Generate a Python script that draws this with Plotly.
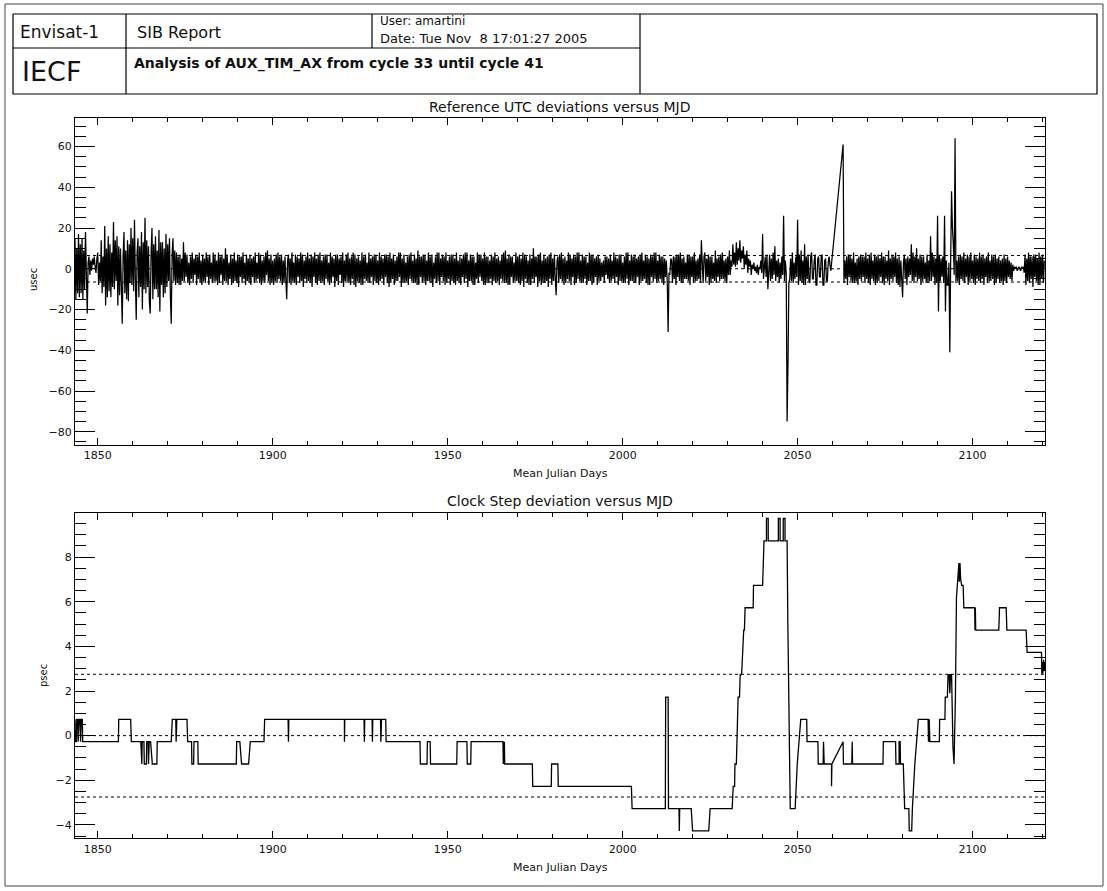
import numpy as np
import plotly.graph_objects as go

W, H = 1107, 891

# ---------------------------------------------------------------------------
# Reference UTC deviations (usec), quarter-day samples.
# Block A runs from MJD 1843.5, block B restarts after the data gap at 2063.0
# (each text row below holds 10 days of samples)
# ---------------------------------------------------------------------------
UTC_START_A = 1843.5
UTC_START_B = 2063.0
UTC_STEP = 0.25

utc_usec_a = [float(v) for v in """
15 -15 10 -12 17 -14 12 -12 15 -15 9 -10 18 4 -22 3 6 -3 4 -1 5 2 6 1 -2 5 8 -8 3 -6 14 -12 6 -9 21 -18 10 -14 16 -11
12 -14 8 -9 23 -10 14 -6 16 -18 11 -13 10 -8 -27 6 18 -12 9 -15 14 -16 12 -7 20 -8 15 -11 24 -5 -25 8 15 -14 11 -9 18 -20 13 -10
25 -12 14 -9 11 -16 -22 8 20 -15 12 -10 16 -10 9 -14 19 -21 13 -8 13 -14 10 -12 17 -9 12 -6 15 -13 -27 7 15 -6 9 -8 8 -7 6 -8
7 -8 5 -6 13 -6 8 -4 7 -7 3 -8 6 -5 8 -7 5 -3 7 -8 6 -5 8 -7 4 -8 7 -6 5 -7 8 -4 6 -8 7 -5 3 -7 8 -6
7 -6 4 -8 8 -7 6 -3 7 -8 5 -6 10 -6 7 -8 3 -5 7 -8 5 -7 8 -6 4 -7 7 -9 6 -4 6 -7 8 -5 3 -8 7 -6 5 -7
7 -8 5 -4 6 -7 8 -6 3 -5 8 -7 7 -8 4 -6 6 -7 8 -3 9 -6 5 -8 7 -7 4 -8 5 -6 7 -7 8 -5 6 -6 7 -8 4 -7
6 -5 -15 4 7 -7 5 -8 8 -6 3 -7 7 -8 6 -4 5 -7 8 -6 7 -9 4 -5 6 -7 8 -6 5 -7 7 -9 6 -4 8 -7 5 -8 7 -6
8 -7 4 -6 6 -8 7 -5 7 -6 3 -8 8 -7 6 -4 5 -9 7 -6 7 -8 5 -3 6 -7 8 -9 4 -6 7 -6 8 -7 5 -8 6 -5 8 -8
7 -9 5 -6 6 -7 4 -8 8 -8 6 -5 7 -6 3 -7 8 -7 5 -4 6 -8 7 -6 7 -7 4 -8 8 -6 6 -5 5 -8 7 -4 7 -7 6 -9
8 -7 5 -5 7 -8 4 -6 6 -6 8 -4 8 -9 5 -7 7 -7 3 -6 6 -8 7 -5 8 -6 4 -7 7 -7 5 -8 9 -8 6 -4 6 -7 7 -6
7 -8 4 -6 8 -6 6 -7 7 -9 3 -5 6 -7 8 -6 8 -8 5 -4 7 -6 6 -8 8 -7 4 -5 6 -8 7 -6 7 -7 5 -8 8 -6 4 -7
6 -8 5 -4 7 -7 8 -5 8 -9 4 -6 7 -6 6 -8 6 -8 3 -5 8 -7 7 -4 7 -6 5 -8 8 -8 6 -7 6 -7 4 -5 7 -8 6 -6
8 -7 5 -6 6 -8 4 -5 7 -6 8 -7 9 -7 5 -8 7 -8 6 -4 6 -7 3 -6 8 -6 6 -7 7 -8 5 -6 8 -9 7 -5 6 -7 4 -8
7 -8 5 -5 10 -7 6 -4 6 -9 7 -6 8 -8 4 -7 7 -7 5 -6 6 -9 7 -5 8 -8 5 -6 7 -5 -13 4 6 -7 7 -5 8 -6 5 -8
6 -7 4 -5 8 -6 7 -8 5 -4 7 -8 6 -7 8 -5 8 -6 4 -7 7 -7 6 -5 6 -8 3 -6 8 -6 7 -8 7 -7 5 -4 6 -8 7 -6
5 -6 3 -4 4 -7 6 -3 6 -5 5 -7 7 -6 4 -5 8 -7 6 -4 5 -8 7 -6 7 -6 3 -7 6 -7 8 -5 8 -8 4 -6 7 -6 6 -7
7 -7 5 -4 6 -8 7 -6 8 -6 4 -5 7 -7 6 -8 5 -8 7 -4 6 -6 8 -5 8 -7 4 -6 7 -5 6 -7 6 -8 5 -4 4 -6 -31 -2
-3 5 4 -7 6 -5 6 -8 7 -4 7 -6 8 -7 5 -7 6 -5 3 -5 7 -6 7 -8 6 -4 6 -7 8 -6 4 -6 5 -5 7 -7 14 3 -7 6
8 -6 5 -4 7 -8 6 -7 6 -5 3 -6 9 -7 5 -4 6 -6 7 -5 8 -5 4 -6 5 -7 6 -3 9 -3 4 1 12 2 8 1 13 2 10 4
14 3 9 5 11 0 7 2 9 -2 5 1 4 -3 2 0 3 -1 1 -2 2 -3 1 0 4 -2 17 -5 3 6 -4 7 -10 2 7 -6 5 -5 8 -3
11 -6 4 -4 5 -7 3 -5 6 -3 26 -6 4 -2 -75 -48 -7 -5 5 -6 8 -7 3 -5 6 -4 24 -8 7 -6 9 -7 4 -8 12 -8 6 -5 7 -6
-7 6 8 -5 -5 4 7 -8 -8 5 6 -4 -4 6 7 -8 -8 4 5 -6 -6 3 6 2 -1
""".split()]

utc_usec_b = [float(v) for v in """
61 -7 4 -5 6 -8 7 -4 7 -6 5 -7 8 -7 3 -6 5 -8 6 -5 7 -6 6 -4 6 -7 8 -5 5 -7 7 -8 8 -5 4 -6 7 -8 6 -7
7 -6 5 -4 8 -7 6 -8 6 -5 4 -6 9 -8 5 -5 7 -6 6 -4 8 -7 5 -8 6 -9 4 -6 -14 3 7 -5 5 -8 6 -4 5 -3 12 -6
8 -7 6 -4 10 -6 5 -5 7 -8 6 -6 6 -5 3 -7 7 -7 4 -6 16 -6 8 -4 6 -8 5 -7 26 -21 7 -6 5 -4 6 -7 26 -21 4 -8
-8 3 -41 5 38 20 12 -3 64 -7 4 -6 6 -8 7 -5 6 -6 8 -7 5 -4 7 -8 6 -6 8 -5 4 -7 7 -8 6 -5 5 -6 8 -7 6 -5
7 -8 5 -4 6 -7 8 -6 4 -6 7 -5 6 -8 7 -7 5 -5 6 -7 4 -6 5 -8 7 -6 5 -7 6 -4 4 -5 3 -6 2 -1 1 0 1 -1
0 1 0 -1 1 0 1 -2 7 -8 5 -6 8 -7 6 -5 6 -9 7 -4 7 -6 5 -8 8 -8 6 -5 7 -7 4
""".split()]

utc_limits = [-6.5, 0.0, 6.5]

# ---------------------------------------------------------------------------
# Clock step deviation (psec) as (MJD, value) vertices
# ---------------------------------------------------------------------------
clock_steps = [
    (1843.5, 0.73), (1843.6, -0.27), (1843.9, -0.27), (1844.0, 0.73),
    (1844.3, 0.73), (1844.4, -0.27), (1844.7, 0.73), (1845.0, 0.73),
    (1845.1, -0.27), (1845.3, 0.73), (1845.6, 0.73), (1845.7, -0.27),
    (1855.9, -0.27), (1856.0, 0.73), (1859.4, 0.73), (1859.6, -0.27),
    (1862.3, -0.27), (1862.4, -1.27), (1862.6, -1.27), (1862.7, -0.27),
    (1863.2, -0.27), (1863.3, -1.27), (1863.9, -1.27), (1864.0, -0.27),
    (1864.4, -0.27), (1864.5, -1.27), (1864.7, -0.27), (1865.1, -0.27),
    (1865.6, -1.27), (1866.9, -1.27), (1867.0, -0.27), (1871.0, -0.27),
    (1871.3, 0.73), (1872.3, 0.73), (1872.4, -0.27), (1872.6, 0.73),
    (1875.5, 0.73), (1875.7, -0.27), (1876.8, -0.27), (1876.9, -1.27),
    (1877.4, -1.27), (1877.5, -0.27), (1878.6, -0.27), (1878.7, -1.27),
    (1889.6, -1.27), (1889.7, -0.27), (1890.6, -0.27), (1891.1, -1.27),
    (1893.1, -1.27), (1893.6, -0.27), (1897.5, -0.27), (1897.7, 0.73),
    (1904.4, 0.73), (1904.5, -0.27), (1904.6, 0.73), (1920.5, 0.73),
    (1920.5, -0.27), (1920.6, 0.73), (1926.1, 0.73), (1926.2, -0.27),
    (1926.3, 0.73), (1928.4, 0.73), (1928.5, -0.27), (1928.6, 0.73),
    (1930.8, 0.73), (1930.9, -0.27), (1931.1, 0.73), (1932.3, 0.73),
    (1932.4, -0.27), (1942.1, -0.27), (1942.2, -1.27), (1944.1, -1.27),
    (1944.2, -0.27), (1945.0, -0.27), (1945.1, -1.27), (1952.6, -1.27),
    (1952.7, -0.27), (1955.5, -0.27), (1955.6, -1.27), (1956.6, -1.27),
    (1956.7, -0.27), (1965.8, -0.27), (1965.9, -1.27), (1966.0, -0.27),
    (1966.2, -0.27), (1966.3, -1.27), (1974.2, -1.27), (1974.3, -2.27),
    (1979.6, -2.27), (1979.7, -1.27), (1981.5, -1.27), (1981.6, -2.27),
    (2002.5, -2.27), (2002.7, -3.27), (2012.2, -3.27), (2012.3, 1.73),
    (2013.0, 1.73), (2013.1, -3.27), (2016.1, -3.27), (2016.2, -4.27),
    (2016.3, -3.27), (2019.6, -3.27), (2020.0, -4.27), (2024.6, -4.27),
    (2025.0, -3.27), (2031.3, -3.27), (2031.6, -2.27), (2032.0, -2.27),
    (2032.1, -1.27), (2032.5, -1.27), (2032.7, 0.73), (2032.9, 0.73),
    (2033.0, 1.73), (2033.4, 1.73), (2033.6, 2.73), (2034.0, 2.73),
    (2034.2, 3.73), (2034.4, 3.73), (2034.6, 4.73), (2034.8, 4.73),
    (2035.0, 5.73), (2037.3, 5.73), (2037.4, 6.73), (2040.0, 6.73),
    (2040.1, 7.73), (2040.3, 7.73), (2040.4, 8.73), (2041.1, 8.73),
    (2041.1, 9.73), (2041.6, 9.73), (2041.6, 8.73), (2044.5, 8.73),
    (2044.5, 9.73), (2045.0, 9.73), (2045.0, 8.73), (2045.9, 8.73),
    (2045.9, 9.73), (2046.4, 9.73), (2046.4, 8.73), (2047.0, 8.73),
    (2047.2, 5.2), (2047.9, -3.27), (2049.3, -3.27), (2049.9, -1.27),
    (2050.4, -0.27), (2050.9, 0.73), (2052.6, 0.73), (2052.7, -0.27),
    (2055.8, -0.27), (2055.9, -1.27), (2057.3, -1.27), (2057.4, -0.27),
    (2057.6, -1.27), (2059.7, -1.27), (2059.7, -2.27), (2059.8, -1.27),
    (2063.0, -0.27), (2063.1, -1.27), (2065.5, -1.27), (2065.6, -0.27),
    (2065.7, -1.27), (2074.4, -1.27), (2074.5, -0.27), (2078.0, -0.27),
    (2078.1, -1.27), (2079.0, -1.27), (2079.0, -0.27), (2079.3, -0.27),
    (2079.4, -1.27), (2080.2, -1.27), (2080.4, -2.27), (2080.6, -3.27),
    (2081.8, -3.27), (2081.9, -4.27), (2082.6, -4.27), (2082.8, -3.27),
    (2083.5, -1.27), (2084.0, -0.27), (2084.5, 0.73), (2087.3, 0.73),
    (2087.4, -0.27), (2087.6, 0.73), (2087.8, -0.27), (2090.5, -0.27),
    (2090.6, 0.73), (2092.1, 0.73), (2092.2, 1.73), (2092.8, 1.73),
    (2093.0, 2.73), (2093.3, 2.73), (2093.5, 1.9), (2093.7, 2.73),
    (2094.0, 2.73), (2094.4, -0.5), (2094.7, -1.27), (2095.1, 1.73),
    (2095.4, 6.2), (2096.1, 7.73), (2096.2, 6.9), (2096.4, 7.73),
    (2096.6, 7.0), (2096.9, 6.73), (2097.3, 6.73), (2097.5, 5.73),
    (2100.6, 5.73), (2100.7, 4.73), (2100.8, 5.73), (2100.9, 4.73),
    (2107.5, 4.73), (2107.7, 5.73), (2109.6, 5.73), (2109.8, 4.73),
    (2115.3, 4.73), (2115.6, 3.73), (2119.7, 3.73), (2119.8, 2.73),
    (2119.9, 3.3), (2120.1, 2.8), (2120.3, 3.4), (2120.5, 2.9),
    (2120.7, 3.3),
]
step_limits = [-2.75, 0.0, 2.75]

mjd_range = [1843.5, 2120.7]
utc_range = [-86.5, 74.0]
step_range = [-4.6, 9.99]

header_mission = "Envisat-1"
header_report = "SIB Report"
header_user = "User: amartini"
header_date = "Date: Tue Nov\u00a0 8 17:01:27 2005"
header_site = "IECF"
header_subject = "Analysis of AUX_TIM_AX from cycle 33 until cycle 41"

# ---------------------------------------------------------------------------
utc_mjd = np.concatenate([
    UTC_START_A + UTC_STEP * np.arange(len(utc_usec_a)),
    UTC_START_B + UTC_STEP * np.arange(len(utc_usec_b)),
])
utc_usec = np.array(utc_usec_a + utc_usec_b)
step_mjd = [p[0] for p in clock_steps]
step_psec = [p[1] for p in clock_steps]

FONT = "DejaVu Sans"
INK = "#111111"

# plot boxes in page pixels
PLOT_L, PLOT_R = 75, 1045
TOP_Y0, TOP_Y1 = 118, 445
BOT_Y0, BOT_Y1 = 512.7, 838.3


def fx(px):
    return px / W


def fy(py):
    return 1 - py / H


fig = go.Figure()
fig.add_trace(go.Scatter(
    x=utc_mjd, y=utc_usec, mode="lines",
    line=dict(color="black", width=1.25),
    xaxis="x", yaxis="y", hoverinfo="skip",
))
fig.add_trace(go.Scatter(
    x=step_mjd, y=step_psec, mode="lines",
    line=dict(color="black", width=1.3),
    xaxis="x2", yaxis="y2", hoverinfo="skip",
))

axis_base = dict(
    showline=True, linecolor="black", linewidth=1, mirror="ticks",
    ticks="inside", tickcolor="black", tickwidth=1,
    showgrid=False, zeroline=False,
    tickfont=dict(family=FONT, size=11, color=INK),
)
x_base = dict(
    axis_base, domain=[fx(PLOT_L), fx(PLOT_R)], range=mjd_range,
    tick0=1850, dtick=50, ticklen=7,
    minor=dict(dtick=10, ticklen=4, ticks="inside", tickcolor="black"),
)

fig.update_layout(
    width=W, height=H, autosize=False,
    margin=dict(l=0, r=0, t=0, b=0),
    paper_bgcolor="white", plot_bgcolor="white", showlegend=False,
    xaxis=dict(x_base, anchor="y"),
    yaxis=dict(
        axis_base, anchor="x", domain=[fy(TOP_Y1), fy(TOP_Y0)],
        range=utc_range, tick0=0, dtick=20, ticklen=20,
        minor=dict(dtick=5, ticklen=11, ticks="inside", tickcolor="black"),
    ),
    xaxis2=dict(x_base, anchor="y2"),
    yaxis2=dict(
        axis_base, anchor="x2", domain=[fy(BOT_Y1), fy(BOT_Y0)],
        range=step_range, tick0=0, dtick=2, ticklen=20,
        minor=dict(dtick=0.5, ticklen=11, ticks="inside", tickcolor="black"),
    ),
)

shapes = []
# threshold lines
for lim in utc_limits:
    shapes.append(dict(type="line", xref="x", yref="y", layer="below",
                       x0=mjd_range[0], x1=mjd_range[1], y0=lim, y1=lim,
                       line=dict(color="black", width=1, dash="3px,3px")))
for lim in step_limits:
    shapes.append(dict(type="line", xref="x2", yref="y2", layer="below",
                       x0=mjd_range[0], x1=mjd_range[1], y0=lim, y1=lim,
                       line=dict(color="black", width=1, dash="3px,3px")))


def seg(x0, y0, x1, y1, color="black", width=1):
    return dict(type="line", xref="paper", yref="paper",
                x0=fx(x0), y0=fy(y0), x1=fx(x1), y1=fy(y1),
                line=dict(color=color, width=width))


# page frame
shapes.append(dict(type="rect", xref="paper", yref="paper",
                   x0=fx(5), y0=fy(886), x1=fx(1103), y1=fy(4),
                   line=dict(color="#444444", width=1)))

# header table
HL, HD1, HD2, HD3, HR = 13, 126, 372, 640, 1097
HT, HM, HB = 14, 48, 94
shapes += [
    dict(type="rect", xref="paper", yref="paper",
         x0=fx(HL), y0=fy(HB), x1=fx(HR), y1=fy(HT),
         line=dict(color="black", width=1.2)),
    seg(HL, HM, HD3, HM, width=1.2),
    seg(HD1, HT, HD1, HB, width=1.2),
    seg(HD2, HT, HD2, HM, width=1.2),
    seg(HD3, HT, HD3, HB, width=1.2),
]
fig.update_layout(shapes=shapes)


def label(text, x, y, size, xanchor="center", yanchor="middle",
          angle=0, bold=False):
    return dict(text=text, x=fx(x), y=fy(y), xref="paper", yref="paper",
                showarrow=False, xanchor=xanchor, yanchor=yanchor,
                textangle=angle,
                font=dict(family=FONT, size=size, color=INK,
                          weight="bold" if bold else "normal"))


mid_x = (PLOT_L + PLOT_R) / 2
fig.update_layout(annotations=[
    label(header_mission, HL + 5, 32, 17, xanchor="left"),
    label(header_report, HD1 + 9, 32, 16, xanchor="left"),
    label(header_user, HD2 + 6, 21, 12, xanchor="left"),
    label(header_date, HD2 + 6, 38, 13, xanchor="left"),
    label(header_site, HL + 7, 72, 27, xanchor="left"),
    label(header_subject, HD1 + 6, 63, 14, xanchor="left", bold=True),
    label("Reference UTC deviations versus MJD", mid_x, 107, 14),
    label("Mean Julian Days", mid_x, 473, 11),
    label("usec", 33, 280, 10, angle=-90),
    label("Clock Step deviation versus MJD", mid_x, 501, 14),
    label("Mean Julian Days", mid_x, 867, 11),
    label("psec", 43, 676, 10, angle=-90),
])

fig.write_html("out.html")
